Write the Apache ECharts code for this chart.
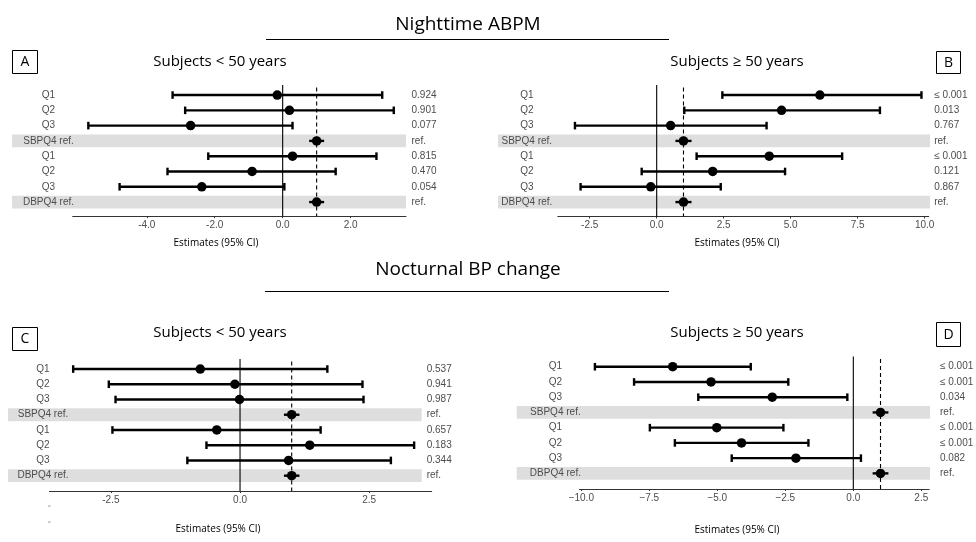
<!DOCTYPE html>
<html><head><meta charset="utf-8">
<script src="https://cdn.jsdelivr.net/npm/echarts@6/dist/echarts.min.js"></script>
<style>html,body{margin:0;padding:0;background:#fff}#c{width:976px;height:542px}</style>
</head><body><div id="c"></div>
<script>
// ---- data ----
const rowLabels = ['Q1', 'Q2', 'Q3', 'SBPQ4 ref.', 'Q1', 'Q2', 'Q3', 'DBPQ4 ref.'];
const refRows = [3, 7];
const refLines = [0, 1];

// Panel A: Nighttime ABPM, < 50 years
const estA = [-0.16, 0.20, -2.71, 1.00, 0.29, -0.90, -2.38, 1.00];
const loA  = [-3.24, -2.87, -5.72, 0.78, -2.19, -3.39, -4.80, 0.78];
const hiA  = [2.93, 3.27, 0.29, 1.22, 2.76, 1.56, 0.05, 1.22];
const pA   = ['0.924', '0.901', '0.077', 'ref.', '0.815', '0.470', '0.054', 'ref.'];
const ticksA = [-4, -2, 0, 2];

// Panel B: Nighttime ABPM, >= 50 years
const estB = [6.09, 4.66, 0.52, 1.00, 4.20, 2.09, -0.22, 1.00];
const loB  = [2.45, 1.03, -3.05, 0.70, 1.49, -0.56, -2.84, 0.70];
const hiB  = [9.88, 8.33, 4.10, 1.30, 6.92, 4.79, 2.39, 1.30];
const pB   = ['\u2264 0.001', '0.013', '0.767', 'ref.', '\u2264 0.001', '0.121', '0.867', 'ref.'];
const ticksB = [-2.5, 0, 2.5, 5, 7.5, 10];

// Panel C: Nocturnal BP change, < 50 years
const estC = [-0.77, -0.10, -0.01, 1.00, -0.45, 1.35, 0.94, 1.00];
const loC  = [-3.23, -2.54, -2.41, 0.85, -2.47, -0.65, -1.02, 0.85];
const hiC  = [1.69, 2.37, 2.39, 1.15, 1.56, 3.37, 2.92, 1.15];
const pC   = ['0.537', '0.941', '0.987', 'ref.', '0.657', '0.183', '0.344', 'ref.'];
const ticksC = [-2.5, 0, 2.5];

// Panel D: Nocturnal BP change, >= 50 years
const estD = [-6.64, -5.23, -2.98, 1.00, -5.02, -4.11, -2.11, 1.00];
const loD  = [-9.50, -8.06, -5.70, 0.71, -7.48, -6.56, -4.47, 0.71];
const hiD  = [-3.77, -2.39, -0.22, 1.29, -2.57, -1.65, 0.28, 1.29];
const pD   = ['\u2264 0.001', '\u2264 0.001', '0.034', 'ref.', '\u2264 0.001', '\u2264 0.001', '0.082', 'ref.'];
const ticksD = [-10, -7.5, -5, -2.5, 0, 2.5];

// ---- layout ----
const SANS = '"Liberation Sans", Arial, sans-serif';
const TITLE = '"Open Sans", "Noto Sans", sans-serif';
const panels = [
  {est: estA, lo: loA, hi: hiA, p: pA, ticks: ticksA, min: -6.18, max: 3.63,
   grid: {left: 72.7, top: 87.4, width: 333.3, height: 122.3}, axisOffset: 6.4,
   labelMargin: 24.2, pMargin: 5.5, band: [12, 406], minus: '-'},
  {est: estB, lo: loB, hi: hiB, p: pB, ticks: ticksB, min: -3.69, max: 10.15,
   grid: {left: 557.8, top: 87.4, width: 370.9, height: 122.3}, axisOffset: 6.8,
   labelMargin: 31, pMargin: 5.5, band: [498, 930], minus: '-'},
  {est: estC, lo: loC, hi: hiC, p: pC, ticks: ticksC, min: -3.69, max: 3.71,
   grid: {left: 49.4, top: 361.4, width: 382.3, height: 121.9}, axisOffset: 7.7,
   labelMargin: 6.4, pMargin: -5, band: [8, 421.7], minus: '-'},
  {est: estD, lo: loD, hi: hiD, p: pD, ticks: ticksD, min: -10.07, max: 2.79,
   grid: {left: 579.4, top: 359.1, width: 349.8, height: 121.9}, axisOffset: 8,
   labelMargin: 24, pMargin: 10.8, band: [516.7, 930], minus: '\u2212'}
];

const grids = [], xAxes = [], yAxes = [], series = [];
panels.forEach((pn, k) => {
  grids.push(Object.assign({outerBoundsMode: 'none', containLabel: false}, pn.grid));
  xAxes.push({
    type: 'value', gridIndex: k, min: pn.min, max: pn.max, offset: pn.axisOffset,
    splitLine: {show: false},
    axisLine: {show: true, lineStyle: {color: '#333', width: 1}},
    axisTick: {show: true, customValues: pn.ticks, length: 2, lineStyle: {color: '#333'}},
    axisLabel: {customValues: pn.ticks, margin: 4, fontSize: 10, fontFamily: SANS, color: '#4d4d4d',
      formatter: v => (v < 0 ? pn.minus : '') + Math.abs(v).toFixed(1)}
  });
  yAxes.push({
    type: 'category', gridIndex: k, data: rowLabels, inverse: true, z: 10,
    axisLine: {show: false}, axisTick: {show: false}, splitLine: {show: false},
    axisLabel: {interval: 0, align: 'center', margin: pn.labelMargin, fontSize: 10, fontFamily: SANS, color: '#4d4d4d'}
  });
  yAxes.push({
    type: 'category', gridIndex: k, position: 'right', data: pn.p, inverse: true, z: 10,
    axisLine: {show: false}, axisTick: {show: false}, splitLine: {show: false},
    axisLabel: {interval: 0, align: 'left', margin: pn.pMargin, fontSize: 10, fontFamily: SANS, color: '#4d4d4d'}
  });
  const yi = k * 2;
  // grey bands behind reference rows
  series.push({
    type: 'custom', xAxisIndex: k, yAxisIndex: yi, clip: false, z: 1, silent: true,
    data: refRows.map(i => [pn.est[i], i]), encode: {x: 0, y: 1},
    renderItem: (params, api) => {
      const c = api.coord([api.value(0), api.value(1)]);
      const h = api.size([0, 1])[1] * 0.84;
      return {type: 'rect', shape: {x: pn.band[0], y: c[1] - h / 2, width: pn.band[1] - pn.band[0], height: h},
        style: {fill: '#dedede'}};
    }
  });
  // vertical reference lines (0 solid, 1 dashed)
  series.push({
    type: 'custom', xAxisIndex: k, yAxisIndex: yi, clip: false, z: 2, silent: true,
    data: refLines.map(v => [v, 0]), encode: {x: 0, y: 1},
    renderItem: (params, api) => {
      const cs = params.coordSys;
      const x = api.coord([api.value(0), 0])[0];
      const dashed = params.dataIndex === 1;
      return {type: 'line', shape: {x1: x, y1: cs.y - (dashed ? 0 : 2.5), x2: x, y2: cs.y + cs.height + pn.axisOffset},
        style: {stroke: '#000', lineWidth: 1.1, lineDash: dashed ? [4, 3] : null}};
    }
  });
  // error bars
  series.push({
    type: 'custom', xAxisIndex: k, yAxisIndex: yi, clip: false, z: 3, silent: true,
    data: pn.lo.map((l, i) => [l, pn.hi[i], i]), encode: {x: [0, 1], y: 2},
    renderItem: (params, api) => {
      const i = api.value(2);
      const a = api.coord([api.value(0), i]);
      const b = api.coord([api.value(1), i]);
      const isRef = refRows.indexOf(i) >= 0;
      const cap = isRef ? 0 : 3.8;
      const st = {stroke: '#000', lineWidth: 2.4};
      const children = [{type: 'line', shape: {x1: a[0], y1: a[1], x2: b[0], y2: b[1]}, style: st}];
      if (cap) {
        children.push({type: 'line', shape: {x1: a[0], y1: a[1] - cap, x2: a[0], y2: a[1] + cap}, style: st});
        children.push({type: 'line', shape: {x1: b[0], y1: b[1] - cap, x2: b[0], y2: b[1] + cap}, style: st});
      }
      return {type: 'group', children};
    }
  });
  // point estimates
  series.push({
    type: 'scatter', xAxisIndex: k, yAxisIndex: yi, z: 4, silent: true,
    symbol: 'circle', symbolSize: 9.5, itemStyle: {color: '#000', opacity: 1},
    data: pn.est.map((v, i) => [v, i])
  });
});

const txt = (x, y, t, size, font, color) => ({type: 'text', x, y, silent: true,
  style: {text: t, fontSize: size, fontFamily: font, fill: color || '#000', align: 'center', verticalAlign: 'middle'}});
const box = (x, y, w, h, t) => ({type: 'group', silent: true, children: [
  {type: 'rect', shape: {x, y, width: w, height: h}, style: {fill: '#fff', stroke: '#000', lineWidth: 1}},
  txt(x + w / 2, y + h / 2 + 0.5, t, 14, TITLE)
]});

const graphic = [
  txt(468, 25, 'Nighttime ABPM', 19, TITLE),
  {type: 'line', silent: true, shape: {x1: 266, y1: 39.5, x2: 669, y2: 39.5}, style: {stroke: '#000', lineWidth: 1}},
  txt(468, 270, 'Nocturnal BP change', 19, TITLE),
  {type: 'line', silent: true, shape: {x1: 265, y1: 291.5, x2: 669, y2: 291.5}, style: {stroke: '#000', lineWidth: 1}},
  txt(220, 62, 'Subjects < 50 years', 15, TITLE),
  txt(737, 62, 'Subjects \u2265 50 years', 15, TITLE),
  txt(220, 333, 'Subjects < 50 years', 15, TITLE),
  txt(737, 333, 'Subjects \u2265 50 years', 15, TITLE),
  box(12.5, 50.5, 25, 23, 'A'),
  box(936.5, 51.5, 24, 22, 'B'),
  box(12.5, 327.5, 25, 23, 'C'),
  box(936.5, 322.5, 24, 24, 'D'),
  txt(216, 243, 'Estimates (95% CI)', 10, TITLE),
  txt(737, 243, 'Estimates (95% CI)', 10, TITLE),
  txt(218, 529, 'Estimates (95% CI)', 10, TITLE),
  txt(737, 530, 'Estimates (95% CI)', 10, TITLE),
  {type: 'rect', silent: true, shape: {x: 48, y: 505.5, width: 2.5, height: 1}, style: {fill: '#999'}},
  {type: 'rect', silent: true, shape: {x: 48, y: 521.5, width: 2.5, height: 1}, style: {fill: '#999'}}
];

const chart = echarts.init(document.getElementById('c'), null, {renderer: 'canvas'});
chart.setOption({
  animation: false, backgroundColor: '#fff',
  grid: grids, xAxis: xAxes, yAxis: yAxes, series, graphic
});
</script></body></html>
